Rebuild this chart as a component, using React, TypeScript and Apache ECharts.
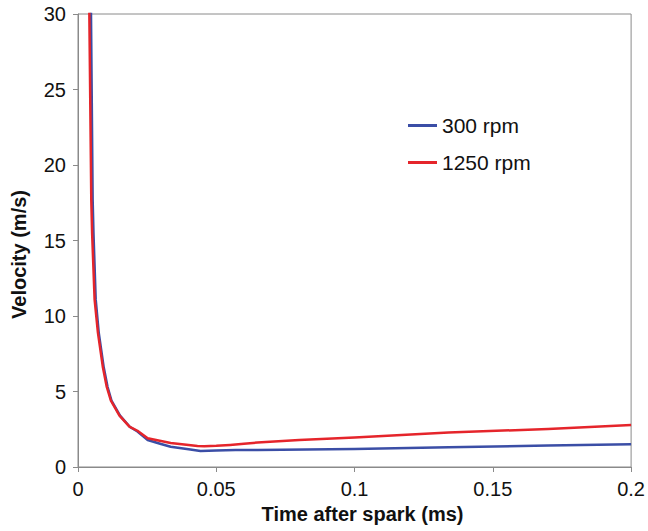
import React, { useEffect, useRef } from "react";
import * as echarts from "echarts";

const xTicks = [0, 0.05, 0.1, 0.15, 0.2];
const yTicks = [0, 5, 10, 15, 20, 25, 30];

const seriesNames = ["300 rpm", "1250 rpm"];

const time300 = [0.0042, 0.0047, 0.0053, 0.0056, 0.0064, 0.0075, 0.0093, 0.0107, 0.0121, 0.0152, 0.0188, 0.0215, 0.0252, 0.03, 0.0335, 0.04, 0.0443, 0.05, 0.057, 0.0649, 0.1, 0.134, 0.17, 0.2];
const vel300 = [40, 30, 17.7, 15.5, 11.1, 8.9, 6.6, 5.3, 4.4, 3.4, 2.65, 2.35, 1.79, 1.52, 1.34, 1.18, 1.06, 1.1, 1.12, 1.13, 1.2, 1.31, 1.42, 1.5];

const time1250 = [0.0038, 0.0041, 0.0048, 0.0051, 0.006, 0.0072, 0.009, 0.0104, 0.0119, 0.015, 0.0186, 0.0215, 0.0252, 0.03, 0.0335, 0.04, 0.0432, 0.0457, 0.05, 0.055, 0.06, 0.0649, 0.08, 0.1, 0.134, 0.17, 0.2];
const vel1250 = [40, 30, 17.7, 15.5, 11.1, 8.9, 6.6, 5.3, 4.4, 3.4, 2.67, 2.4, 1.9, 1.72, 1.59, 1.45, 1.39, 1.37, 1.4, 1.46, 1.54, 1.62, 1.78, 1.95, 2.28, 2.52, 2.78];

const colors = ["#3b4ea6", "#e5252b"];

const FONT = "'Liberation Sans', Arial, sans-serif";

export default function App() {
  const ref = useRef<HTMLDivElement>(null);
  useEffect(() => {
    if (!ref.current) return;
    const chart = echarts.init(ref.current, undefined, { renderer: "svg" });
    const zip = (t: number[], v: number[]) => t.map((x, i) => [x, v[i]]);
    chart.setOption({
      animation: false,
      backgroundColor: "#ffffff",
      grid: {
        left: 78,
        right: 15,
        top: 14,
        bottom: 64,
        show: true,
        borderColor: "#8a8a8a",
        borderWidth: 1,
        backgroundColor: "transparent",
      },
      legend: {
        orient: "vertical",
        left: 403,
        top: 110,
        itemWidth: 29,
        itemHeight: 3,
        itemGap: 16,
        icon: "rect",
        textStyle: { fontFamily: FONT, fontSize: 21, color: "#111" },
        data: seriesNames,
      },
      xAxis: {
        type: "value",
        min: xTicks[0],
        max: xTicks[xTicks.length - 1],
        interval: 0.05,
        name: "Time after spark (ms)",
        nameLocation: "middle",
        nameGap: 37,
        nameTextStyle: { fontFamily: FONT, fontSize: 20, fontWeight: "bold", color: "#111", padding: [0, 0, 0, 16] },
        axisLine: { lineStyle: { color: "#8a8a8a", width: 1 } },
        axisTick: { show: true, inside: false, length: 5, lineStyle: { color: "#8a8a8a" } },
        axisLabel: { fontFamily: FONT, fontSize: 20, color: "#111", margin: 12 },
        splitLine: { show: false },
      },
      yAxis: {
        type: "value",
        min: yTicks[0],
        max: yTicks[yTicks.length - 1],
        interval: 5,
        name: "Velocity (m/s)",
        nameLocation: "middle",
        nameRotate: 90,
        nameGap: 49,
        nameTextStyle: { fontFamily: FONT, fontSize: 20, fontWeight: "bold", color: "#111", padding: [0, 28, 0, 0] },
        axisLine: { show: true, lineStyle: { color: "#8a8a8a", width: 1 } },
        axisTick: { show: true, inside: false, length: 5, lineStyle: { color: "#8a8a8a" } },
        axisLabel: { fontFamily: FONT, fontSize: 20, color: "#111", margin: 12 },
        splitLine: { show: false },
      },
      series: [
        {
          name: seriesNames[0],
          type: "line",
          data: zip(time300, vel300),
          showSymbol: false,
          symbol: "none",
          clip: true,
          lineStyle: { color: colors[0], width: 2.5, join: "round" },
          itemStyle: { color: colors[0] },
        },
        {
          name: seriesNames[1],
          type: "line",
          data: zip(time1250, vel1250),
          showSymbol: false,
          symbol: "none",
          clip: true,
          lineStyle: { color: colors[1], width: 2.5, join: "round" },
          itemStyle: { color: colors[1] },
        },
      ],
    });
    return () => chart.dispose();
  }, []);
  return <div ref={ref} style={{ width: 648, height: 531, position: "absolute", left: 0, top: 0 }} />;
}
